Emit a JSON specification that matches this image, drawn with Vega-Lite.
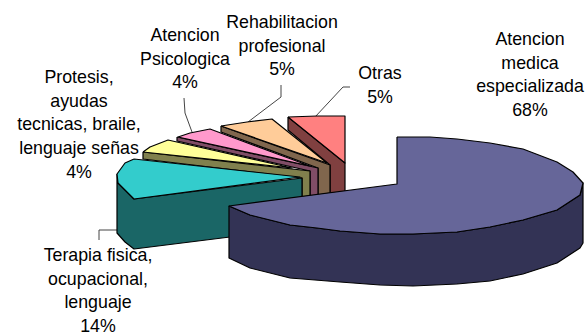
{"$schema":"https://vega.github.io/schema/vega-lite/v6.json","width":587,"height":333,"padding":0,"autosize":{"type":"none"},"background":"white","view":{"stroke":null},
"datasets":{"shapes":[
{"part":"Otras lateral","n":1,"x":288,"y":117},{"part":"Otras lateral","n":2,"x":345,"y":163},{"part":"Otras lateral","n":3,"x":345,"y":192},{"part":"Otras lateral","n":4,"x":330,"y":193},{"part":"Otras lateral","n":5,"x":330,"y":165},{"part":"Otras lateral","n":6,"x":288,"y":130},{"part":"Otras lateral","n":7,"x":288,"y":117},
{"part":"Otras","n":1,"x":288,"y":117},{"part":"Otras","n":2,"x":317,"y":116},{"part":"Otras","n":3,"x":345,"y":116},{"part":"Otras","n":4,"x":345,"y":163},{"part":"Otras","n":5,"x":288,"y":117},
{"part":"Rehabilitacion lateral","n":1,"x":221,"y":126},{"part":"Rehabilitacion lateral","n":2,"x":330,"y":165},{"part":"Rehabilitacion lateral","n":3,"x":330,"y":193},{"part":"Rehabilitacion lateral","n":4,"x":318,"y":195},{"part":"Rehabilitacion lateral","n":5,"x":318,"y":168},{"part":"Rehabilitacion lateral","n":6,"x":221,"y":132},{"part":"Rehabilitacion lateral","n":7,"x":221,"y":126},
{"part":"Rehabilitacion","n":1,"x":221,"y":126},{"part":"Rehabilitacion","n":2,"x":247,"y":122},{"part":"Rehabilitacion","n":3,"x":272,"y":119},{"part":"Rehabilitacion","n":4,"x":327,"y":163},{"part":"Rehabilitacion","n":5,"x":221,"y":126},
{"part":"Psicologica lateral","n":1,"x":177,"y":137},{"part":"Psicologica lateral","n":2,"x":318,"y":168},{"part":"Psicologica lateral","n":3,"x":318,"y":195},{"part":"Psicologica lateral","n":4,"x":310,"y":196},{"part":"Psicologica lateral","n":5,"x":310,"y":171},{"part":"Psicologica lateral","n":6,"x":177,"y":141},{"part":"Psicologica lateral","n":7,"x":177,"y":137},
{"part":"Psicologica","n":1,"x":178,"y":137},{"part":"Psicologica","n":2,"x":190,"y":133},{"part":"Psicologica","n":3,"x":210,"y":129},{"part":"Psicologica","n":4,"x":310,"y":166},{"part":"Psicologica","n":5,"x":178,"y":137},
{"part":"Protesis lateral","n":1,"x":143,"y":152},{"part":"Protesis lateral","n":2,"x":310,"y":171},{"part":"Protesis lateral","n":3,"x":310,"y":196},{"part":"Protesis lateral","n":4,"x":302,"y":197},{"part":"Protesis lateral","n":5,"x":302,"y":178},{"part":"Protesis lateral","n":6,"x":143,"y":159},{"part":"Protesis lateral","n":7,"x":143,"y":152},
{"part":"Protesis","n":1,"x":143,"y":152},{"part":"Protesis","n":2,"x":150,"y":147},{"part":"Protesis","n":3,"x":168,"y":140},{"part":"Protesis","n":4,"x":292,"y":168},{"part":"Protesis","n":5,"x":143,"y":152},
{"part":"Terapia lateral","n":1,"x":117,"y":174},{"part":"Terapia lateral","n":2,"x":118,"y":183},{"part":"Terapia lateral","n":3,"x":125,"y":190},{"part":"Terapia lateral","n":4,"x":134,"y":199},{"part":"Terapia lateral","n":5,"x":302,"y":178},{"part":"Terapia lateral","n":6,"x":302,"y":228},{"part":"Terapia lateral","n":7,"x":134,"y":249},{"part":"Terapia lateral","n":8,"x":125,"y":242},{"part":"Terapia lateral","n":9,"x":117,"y":233},{"part":"Terapia lateral","n":10,"x":117,"y":174},
{"part":"Terapia","n":1,"x":134,"y":159},{"part":"Terapia","n":2,"x":125,"y":163},{"part":"Terapia","n":3,"x":117,"y":174},{"part":"Terapia","n":4,"x":118,"y":183},{"part":"Terapia","n":5,"x":125,"y":190},{"part":"Terapia","n":6,"x":134,"y":199},{"part":"Terapia","n":7,"x":300,"y":177},{"part":"Terapia","n":8,"x":134,"y":159},
{"part":"Medica lateral","n":1,"x":229,"y":206},{"part":"Medica lateral","n":2,"x":250,"y":215},{"part":"Medica lateral","n":3,"x":290,"y":225},{"part":"Medica lateral","n":4,"x":317,"y":228},{"part":"Medica lateral","n":5,"x":340,"y":231},{"part":"Medica lateral","n":6,"x":380,"y":234},{"part":"Medica lateral","n":7,"x":413,"y":234},{"part":"Medica lateral","n":8,"x":457,"y":232},{"part":"Medica lateral","n":9,"x":490,"y":227},{"part":"Medica lateral","n":10,"x":523,"y":220},{"part":"Medica lateral","n":11,"x":557,"y":210},{"part":"Medica lateral","n":12,"x":580,"y":195},{"part":"Medica lateral","n":13,"x":583,"y":183},{"part":"Medica lateral","n":14,"x":583,"y":243},{"part":"Medica lateral","n":15,"x":580,"y":248},{"part":"Medica lateral","n":16,"x":557,"y":263},{"part":"Medica lateral","n":17,"x":523,"y":274},{"part":"Medica lateral","n":18,"x":490,"y":281},{"part":"Medica lateral","n":19,"x":457,"y":284},{"part":"Medica lateral","n":20,"x":413,"y":286},{"part":"Medica lateral","n":21,"x":380,"y":285},{"part":"Medica lateral","n":22,"x":340,"y":282},{"part":"Medica lateral","n":23,"x":290,"y":278},{"part":"Medica lateral","n":24,"x":250,"y":268},{"part":"Medica lateral","n":25,"x":229,"y":258},{"part":"Medica lateral","n":26,"x":229,"y":206},
{"part":"Medica","n":1,"x":397,"y":137},{"part":"Medica","n":2,"x":430,"y":137},{"part":"Medica","n":3,"x":457,"y":139},{"part":"Medica","n":4,"x":490,"y":143},{"part":"Medica","n":5,"x":523,"y":149},{"part":"Medica","n":6,"x":557,"y":162},{"part":"Medica","n":7,"x":573,"y":172},{"part":"Medica","n":8,"x":583,"y":183},{"part":"Medica","n":9,"x":580,"y":195},{"part":"Medica","n":10,"x":557,"y":210},{"part":"Medica","n":11,"x":523,"y":220},{"part":"Medica","n":12,"x":490,"y":227},{"part":"Medica","n":13,"x":457,"y":232},{"part":"Medica","n":14,"x":413,"y":234},{"part":"Medica","n":15,"x":380,"y":234},{"part":"Medica","n":16,"x":340,"y":231},{"part":"Medica","n":17,"x":317,"y":228},{"part":"Medica","n":18,"x":290,"y":225},{"part":"Medica","n":19,"x":250,"y":215},{"part":"Medica","n":20,"x":229,"y":206},{"part":"Medica","n":21,"x":397,"y":184},{"part":"Medica","n":22,"x":397,"y":137}
],
"leaders":[
{"line":"Otras","n":1,"x":350,"y":87},{"line":"Otras","n":2,"x":343,"y":87},{"line":"Otras","n":3,"x":315,"y":117},
{"line":"Rehabilitacion","n":1,"x":281,"y":85},{"line":"Rehabilitacion","n":2,"x":281,"y":97},{"line":"Rehabilitacion","n":3,"x":248,"y":122},
{"line":"Psicologica","n":1,"x":184,"y":98},{"line":"Psicologica","n":2,"x":185,"y":113},{"line":"Psicologica","n":3,"x":192,"y":132},
{"line":"Terapia","n":1,"x":99,"y":240},{"line":"Terapia","n":2,"x":99,"y":230},{"line":"Terapia","n":3,"x":117,"y":230}
],
"labels":[
{"label":"Atencion\nmedica\nespecializada\n68%","x":530,"y":40},
{"label":"Otras\n5%","x":380,"y":74},
{"label":"Rehabilitacion\nprofesional\n5%","x":282,"y":23},
{"label":"Atencion\nPsicologica\n4%","x":185,"y":36},
{"label":"Protesis,\nayudas\ntecnicas, braile,\nlenguaje señas\n4%","x":79,"y":78},
{"label":"Terapia fisica,\nocupacional,\nlenguaje\n14%","x":98,"y":256}
]},
"encoding":{
"x":{"field":"x","type":"quantitative","axis":null,"scale":{"domain":[0,587],"nice":false,"zero":false}},
"y":{"field":"y","type":"quantitative","axis":null,"scale":{"domain":[333,0],"nice":false,"zero":false}}
},
"layer":[
{"data":{"name":"leaders"},"mark":{"type":"line","stroke":"#444","strokeWidth":1},"encoding":{"detail":{"field":"line"},"order":{"field":"n","type":"quantitative"}}},
{"data":{"name":"shapes"},"mark":{"type":"line","filled":true,"stroke":"#000","strokeWidth":1.2,"strokeJoin":"round"},"encoding":{
"fill":{"field":"part","type":"nominal","legend":null,"sort":null,"scale":{"domain":["Otras lateral","Otras","Rehabilitacion lateral","Rehabilitacion","Psicologica lateral","Psicologica","Protesis lateral","Protesis","Terapia lateral","Terapia","Medica lateral","Medica"],"range":["#804040","#FF8080","#80664D","#FFCC99","#804D66","#FF99CC","#80804D","#FFFF99","#1A6666","#33CCCC","#333355","#666699"]}},
"order":{"field":"n","type":"quantitative"}}},
{"data":{"name":"labels"},"mark":{"type":"text","font":"Liberation Sans","fontSize":17.8,"lineHeight":23.7,"lineBreak":"\n","align":"center","baseline":"middle","fill":"#000"},"encoding":{"text":{"field":"label","type":"nominal"}}}
]}
